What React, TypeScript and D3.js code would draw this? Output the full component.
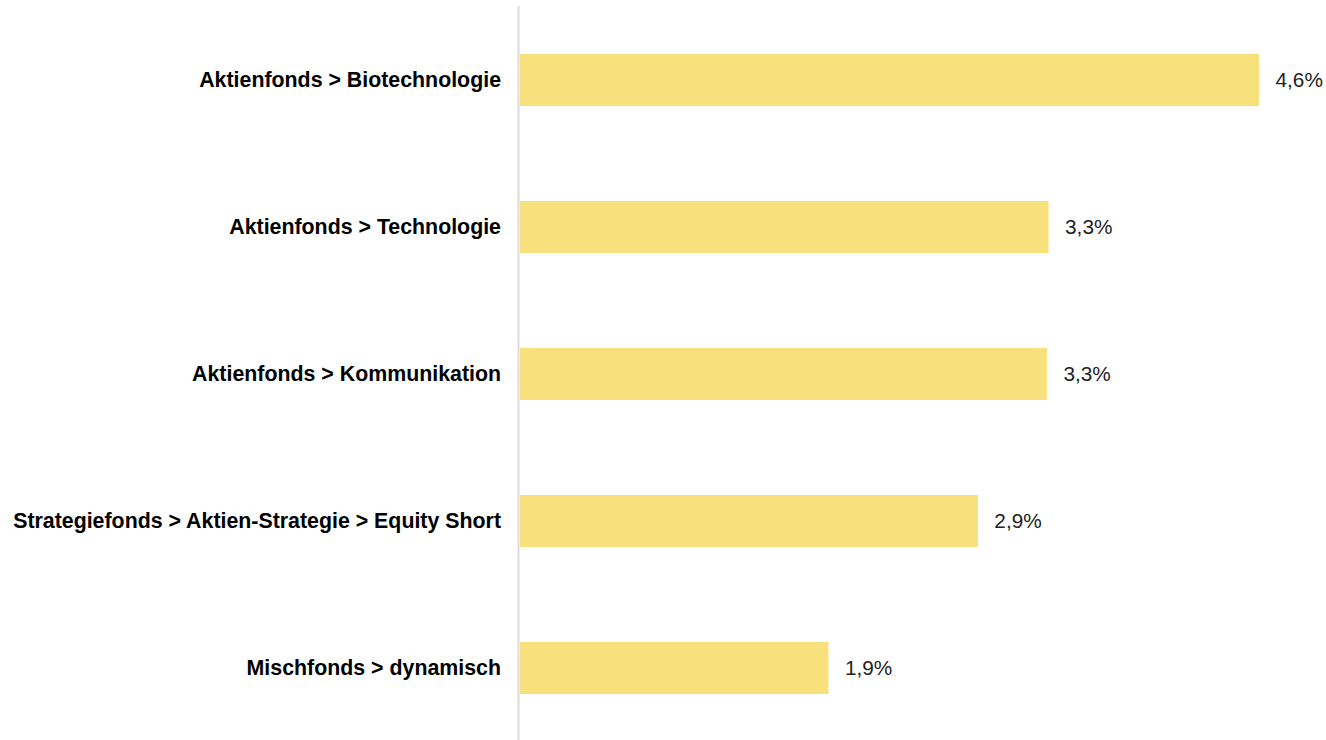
import React from "react";
import * as d3 from "d3";

const categories = [
  "Aktienfonds > Biotechnologie",
  "Aktienfonds > Technologie",
  "Aktienfonds > Kommunikation",
  "Strategiefonds > Aktien-Strategie > Equity Short",
  "Mischfonds > dynamisch",
];
const values = [4.6, 3.29, 3.28, 2.85, 1.92];
const valueLabels = ["4,6%", "3,3%", "3,3%", "2,9%", "1,9%"];

const W = 1326;
const H = 740;

export default function App() {
  const y = d3
    .scaleBand<string>()
    .domain(categories)
    .range([6.5, 741.5])
    .paddingInner(0.646)
    .paddingOuter(0.323);
  const x = d3.scaleLinear().domain([0, 4.6]).range([520, 1259]);
  const font = "'Liberation Sans', Arial, sans-serif";
  return (
    <svg
      width={W}
      height={H}
      style={{ position: "absolute", left: 0, top: 0, display: "block", background: "#fff" }}
    >
      <line x1={518.5} x2={518.5} y1={6} y2={740} stroke="#dcdcdc" strokeWidth={2} />
      {categories.map((c, i) => {
        const y0 = y(c)!;
        const bw = y.bandwidth();
        const cy = y0 + bw / 2 - 0.3;
        return (
          <g key={c}>
            <rect x={x(0)} y={y0} width={x(values[i]) - x(0)} height={bw} fill="#f8e17c" />
            <text
              x={501}
              y={cy}
              textAnchor="end"
              dominantBaseline="central"
              fontFamily={font}
              fontWeight="bold"
              fontSize={21.35}
              fill="#000"
            >
              {c}
            </text>
            <text
              x={x(values[i]) + 16.5}
              y={cy}
              dominantBaseline="central"
              fontFamily={font}
              fontSize={20.8}
              fill="#222"
            >
              {valueLabels[i]}
            </text>
          </g>
        );
      })}
    </svg>
  );
}
